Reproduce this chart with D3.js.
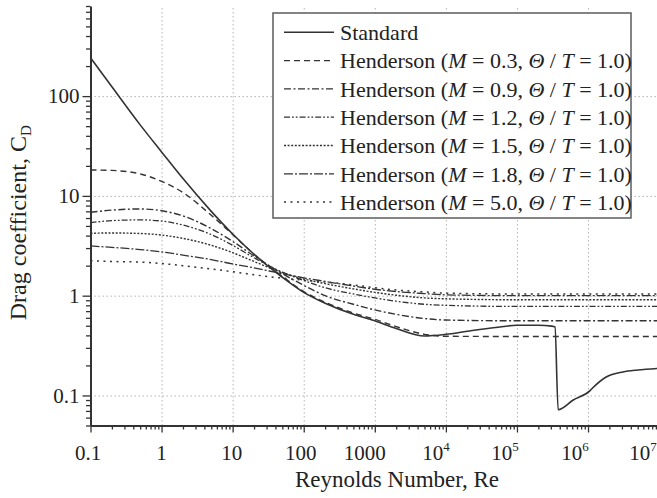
<!DOCTYPE html>
<html>
<head>
<meta charset="utf-8">
<script src="https://cdn.jsdelivr.net/npm/d3@7"></script>
<style>
  html, body { margin: 0; padding: 0; background: #fff; }
  svg { display: block; }
  svg text { font-family: "Liberation Serif", "Times New Roman", "DejaVu Serif", serif; fill: #222; }
</style>
</head>
<body>
<svg id="chart" width="657" height="498"></svg>
<script>
// ---------------- DATA ----------------
const standardRe = [0.1, 0.2, 0.5, 1, 2, 5, 10, 20, 50, 100, 200, 500, 1000, 2000, 5000, 10000, 20000, 50000, 100000, 200000, 310000, 343000, 380000, 620000, 1070000, 1150000, 1800000, 3100000, 5000000, 10000000];
const standardCd = [242, 124, 51.5, 27.6, 14.9, 7.0, 4.15, 2.6, 1.53, 1.08, 0.84, 0.65, 0.56, 0.47, 0.395, 0.41, 0.44, 0.48, 0.505, 0.505, 0.495, 0.485, 0.072, 0.09, 0.112, 0.118, 0.153, 0.172, 0.18, 0.187];

const hendersonRe = [0.1, 0.2, 0.5, 1, 2, 5, 10, 20, 50, 100, 200, 500, 1000, 2000, 5000, 10000, 100000, 1000000, 10000000];
const cdM03 = [18.2, 18.0, 16.6, 14.0, 10.8, 6.4, 4.1, 2.6, 1.56, 1.1, 0.86, 0.67, 0.58, 0.49, 0.41, 0.392, 0.39, 0.39, 0.39];
const cdM09 = [6.85, 7.2, 7.4, 7.1, 6.3, 4.7, 3.5, 2.5, 1.66, 1.27, 1.0, 0.82, 0.72, 0.65, 0.59, 0.57, 0.56, 0.56, 0.56];
const cdM12 = [5.4, 5.65, 5.75, 5.6, 5.1, 4.1, 3.2, 2.4, 1.72, 1.42, 1.2, 1.04, 0.95, 0.88, 0.82, 0.8, 0.78, 0.78, 0.78];
const cdM15 = [4.22, 4.25, 4.2, 4.05, 3.75, 3.2, 2.7, 2.2, 1.7, 1.47, 1.32, 1.17, 1.08, 1.01, 0.95, 0.93, 0.91, 0.91, 0.91];
const cdM18 = [3.15, 3.05, 2.9, 2.75, 2.55, 2.3, 2.08, 1.9, 1.66, 1.51, 1.39, 1.25, 1.16, 1.1, 1.05, 1.02, 1.0, 1.0, 1.0];
const cdM50 = [2.24, 2.2, 2.17, 2.1, 2.0, 1.85, 1.74, 1.62, 1.5, 1.43, 1.37, 1.28, 1.2, 1.14, 1.09, 1.06, 1.04, 1.04, 1.04];

const machNumbers = ["0.3", "0.9", "1.2", "1.5", "1.8", "5.0"];
const xTickValues = [0.1, 1, 10, 100, 1000, 1e4, 1e5, 1e6, 1e7];
const xTickBase = ["0.1", "1", "10", "100", "1000", "10", "10", "10", "10"];
const xTickExp = ["", "", "", "", "", "4", "5", "6", "7"];
const yTickValues = [0.1, 1, 10, 100];
const yTickLabels = ["0.1", "1", "10", "100"];
const xTitle = "Reynolds Number, Re";
const yTitle = "Drag coefficient, C";
const yTitleSub = "D";

// ---------------- LAYOUT ----------------
const FONT = '"Liberation Serif", "Times New Roman", "DejaVu Serif", serif';
const svg = d3.select("#chart").attr("font-family", FONT);
const pLeft = 90.5, pRight = 659.1, pTop = 6, pBottom = 425.5;
const x = d3.scaleLog().domain([0.1, 1e7]).range([pLeft, pRight]);
const y = d3.scaleLog().domain([0.05, 800]).range([pBottom, pTop]);
const ink = "#333";
// horizontal nudges of the x tick labels (as laid out in the reference)
const xLabelNudge = [-2.5, 0, -1, -3, -10, -10, -12, -13, -16];

function minors(lo, hi) {
  const out = [];
  for (let e = Math.floor(Math.log10(lo)); e <= Math.ceil(Math.log10(hi)); e++) {
    for (let k = 1; k <= 9; k++) {
      const v = k * Math.pow(10, e);
      if (v >= lo * 0.9999 && v <= hi * 1.0001) out.push(v);
    }
  }
  return out;
}
const xAll = minors(0.1, 1e7);
const yAll = minors(0.05, 800);

// grid
svg.append("g").attr("transform", `translate(0,${pBottom})`)
  .call(d3.axisBottom(x).tickValues(xTickValues.slice(1, -1)).tickSize(-(pBottom - pTop)).tickFormat(""))
  .call(g => g.select(".domain").remove())
  .selectAll("line").attr("stroke", "#b5b5b5").attr("stroke-width", 1).attr("stroke-dasharray", "1.5,2.5");
svg.append("g").attr("transform", `translate(${pLeft},0)`)
  .call(d3.axisLeft(y).tickValues(yTickValues).tickSize(-(pRight - pLeft)).tickFormat(""))
  .call(g => g.select(".domain").remove())
  .selectAll("line").attr("stroke", "#b5b5b5").attr("stroke-width", 1).attr("stroke-dasharray", "1.5,2.5");

// curves
svg.append("clipPath").attr("id", "plotclip").append("rect")
  .attr("x", pLeft).attr("y", pTop).attr("width", pRight - pLeft).attr("height", pBottom - pTop);
const line = d3.line().x(d => x(d[0])).y(d => y(d[1])).curve(d3.curveMonotoneX);
const series = [
  { re: standardRe, cd: standardCd, dash: null, w: 1.6 },
  { re: hendersonRe, cd: cdM03, dash: "6,4", w: 1.4 },
  { re: hendersonRe, cd: cdM09, dash: "7,2.5,2,2.5", w: 1.4 },
  { re: hendersonRe, cd: cdM12, dash: "6,2,1.8,2,1.8,2", w: 1.3 },
  { re: hendersonRe, cd: cdM15, dash: "2,1.6", w: 1.4 },
  { re: hendersonRe, cd: cdM18, dash: "9,2,2,2", w: 1.3 },
  { re: hendersonRe, cd: cdM50, dash: "2,4.5", w: 1.5 }
];
const cg = svg.append("g").attr("clip-path", "url(#plotclip)");
series.forEach(s => {
  cg.append("path").datum(s.re.map((r, i) => [r, s.cd[i]]))
    .attr("d", line).attr("fill", "none").attr("stroke", ink)
    .attr("stroke-width", s.w).attr("stroke-dasharray", s.dash);
});

// axes
const xAxisG = svg.append("g").attr("transform", `translate(0,${pBottom})`)
  .call(d3.axisBottom(x).tickValues(xAll).tickSizeOuter(0).tickFormat(""));
xAxisG.select(".domain").attr("stroke", ink).attr("stroke-width", 2);
xAxisG.selectAll(".tick line").attr("stroke", ink).attr("stroke-width", 1.3)
  .attr("y2", d => xTickValues.some(v => Math.abs(v / d - 1) < 1e-6) ? 7 : 4);

const yAxisG = svg.append("g").attr("transform", `translate(${pLeft},0)`)
  .call(d3.axisLeft(y).tickValues(yAll).tickSizeOuter(0).tickFormat(""));
yAxisG.select(".domain").attr("stroke", ink).attr("stroke-width", 2);
yAxisG.selectAll(".tick line").attr("stroke", ink).attr("stroke-width", 1.3)
  .attr("x2", d => yTickValues.some(v => Math.abs(v / d - 1) < 1e-6) ? -8 : -4.5);

// tick labels
xTickValues.forEach((v, i) => {
  const t = svg.append("text").attr("x", x(v) + xLabelNudge[i]).attr("y", pBottom + 34)
    .attr("text-anchor", "middle").attr("font-size", 21).attr("font-family", FONT);
  t.append("tspan").text(xTickBase[i]);
  if (xTickExp[i]) t.append("tspan").attr("dy", -9).attr("font-size", 13).text(xTickExp[i]);
});
yTickValues.forEach((v, i) => {
  svg.append("text").attr("x", pLeft - 11).attr("y", y(v)).attr("dy", "0.35em")
    .attr("text-anchor", "end").attr("font-size", 21).attr("font-family", FONT).text(yTickLabels[i]);
});

// axis titles
svg.append("text").attr("x", 397).attr("y", 487).attr("text-anchor", "middle")
  .attr("font-size", 23).attr("font-family", FONT).text(xTitle);
const yt = svg.append("text").attr("transform", `translate(26,${(pTop + pBottom) / 2 + 7}) rotate(-90)`)
  .attr("text-anchor", "middle").attr("font-size", 24).attr("font-family", FONT);
yt.append("tspan").text(yTitle);
yt.append("tspan").attr("dy", 5).attr("font-size", 15).text(yTitleSub);

// legend
const lg = svg.append("g");
lg.append("rect").attr("x", 273).attr("y", 13).attr("width", 358).attr("height", 205)
  .attr("fill", "#fff").attr("stroke", "#666").attr("stroke-width", 1.6);
series.forEach((s, i) => {
  const cy = 32.3 + i * 28.3;
  lg.append("line").attr("x1", 284).attr("x2", 334).attr("y1", cy).attr("y2", cy)
    .attr("stroke", ink).attr("stroke-width", s.w).attr("stroke-dasharray", s.dash);
  const t = lg.append("text").attr("x", 340).attr("y", cy).attr("dy", "0.35em")
    .attr("font-size", 22).attr("font-family", FONT);
  if (i === 0) { t.text("Standard"); return; }
  t.append("tspan").text("Henderson (");
  t.append("tspan").attr("font-style", "italic").text("M");
  t.append("tspan").text(` = ${machNumbers[i - 1]}, `);
  t.append("tspan").attr("font-style", "italic").text("Θ");
  t.append("tspan").text(" / ");
  t.append("tspan").attr("font-style", "italic").text("T");
  t.append("tspan").text(" = 1.0)");
});
</script>
</body>
</html>
